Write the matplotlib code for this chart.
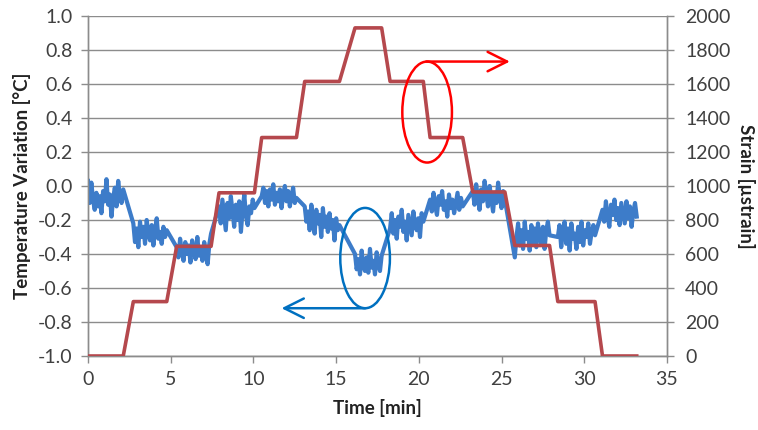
import numpy as np
import matplotlib
matplotlib.use("Agg")
import matplotlib.pyplot as plt
from matplotlib.patches import Ellipse

plt.rcParams['font.family'] = ['Lato', 'DejaVu Sans']

# ---- strain (right axis) ----
strain_t = [0, 2.13, 2.74, 4.76, 5.36, 7.44, 7.92, 10.06, 10.5, 12.6, 13.1, 15.2, 16.14,
            17.75, 18.26, 20.27, 20.68, 22.65, 23.26, 25.2, 25.8, 27.9, 28.4, 30.65, 31.1, 33.17]
strain_v = [0, 0, 320, 320, 645, 645, 960, 960, 1285, 1285, 1615, 1615, 1930,
            1930, 1615, 1615, 1285, 1285, 965, 965, 650, 650, 320, 320, 0, 0]

# ---- temperature variation (left axis), sampled during each hold ----
seg_bounds = [(0.0, 2.13), (2.74, 4.76), (5.36, 7.44), (7.92, 10.06), (10.5, 12.6),
              (13.1, 15.2), (16.14, 17.75), (18.26, 20.27), (20.68, 22.65),
              (23.26, 25.2), (25.8, 27.9), (28.4, 30.65), (31.1, 33.17)]
temp_s1 = [0.03, -0.10, 0.02, -0.08, -0.14, -0.04, -0.12, -0.06, -0.16, -0.03, -0.09, 0.04,
           -0.11, -0.05, -0.18, -0.07, -0.01, -0.12, 0.03, -0.06, -0.10, -0.02]
temp_s2 = [-0.22, -0.33, -0.25, -0.36, -0.21, -0.30, -0.24, -0.34, -0.20, -0.28, -0.32,
           -0.23, -0.35, -0.26, -0.19, -0.31, -0.27, -0.34, -0.24, -0.30, -0.26]
temp_s3 = [-0.36, -0.42, -0.31, -0.39, -0.44, -0.33, -0.40, -0.35, -0.45, -0.32, -0.38,
           -0.43, -0.30, -0.41, -0.36, -0.44, -0.33, -0.39, -0.46, -0.34, -0.28]
temp_s4 = [-0.12, -0.22, -0.08, -0.17, -0.26, -0.10, -0.19, -0.06, -0.15, -0.24, -0.11,
           -0.20, -0.09, -0.27, -0.14, -0.05, -0.18, -0.23, -0.12, -0.16, -0.08, -0.13]
temp_s5 = [-0.06, -0.01, -0.10, -0.03, -0.12, -0.02, -0.08, 0.01, -0.11, -0.04, -0.09,
           -0.02, -0.13, -0.05, 0.00, -0.09, -0.03, -0.12, -0.06, -0.01, -0.10, -0.07]
temp_s6 = [-0.12, -0.21, -0.15, -0.26, -0.11, -0.19, -0.28, -0.14, -0.22, -0.17, -0.30,
           -0.13, -0.24, -0.18, -0.27, -0.16, -0.25, -0.20, -0.32, -0.19, -0.26, -0.23]
temp_s7 = [-0.40, -0.49, -0.43, -0.52, -0.38, -0.47, -0.50, -0.42, -0.51, -0.37, -0.48,
           -0.44, -0.52, -0.39, -0.46, -0.50, -0.41]
temp_s8 = [-0.25, -0.16, -0.28, -0.20, -0.31, -0.18, -0.24, -0.14, -0.27, -0.21, -0.32,
           -0.17, -0.23, -0.29, -0.15, -0.22, -0.26, -0.19, -0.30, -0.16, -0.21]
temp_s9 = [-0.08, -0.15, -0.04, -0.12, -0.17, -0.06, -0.11, -0.03, -0.14, -0.09, -0.18,
           -0.05, -0.13, -0.08, -0.16, -0.10, -0.04, -0.14, -0.07, -0.12]
temp_s10 = [-0.03, -0.11, 0.01, -0.07, -0.14, -0.02, -0.09, 0.03, -0.05, -0.12, 0.00,
            -0.08, -0.15, -0.04, -0.10, 0.02, -0.06, -0.13, -0.03, -0.08]
temp_s11 = [-0.42, -0.30, -0.22, -0.35, -0.26, -0.37, -0.21, -0.31, -0.27, -0.38, -0.23,
            -0.33, -0.25, -0.36, -0.22, -0.30, -0.34, -0.24, -0.37, -0.26, -0.21, -0.29]
temp_s12 = [-0.30, -0.23, -0.36, -0.27, -0.21, -0.34, -0.25, -0.38, -0.22, -0.31, -0.28,
            -0.37, -0.24, -0.33, -0.21, -0.35, -0.26, -0.30, -0.22, -0.34, -0.27, -0.23, -0.29]
temp_s13 = [-0.14, -0.21, -0.09, -0.18, -0.24, -0.11, -0.17, -0.08, -0.20, -0.13, -0.23,
            -0.10, -0.16, -0.22, -0.09, -0.19, -0.12, -0.24, -0.15, -0.10, -0.18]
temp_segments = [temp_s1, temp_s2, temp_s3, temp_s4, temp_s5, temp_s6, temp_s7,
                 temp_s8, temp_s9, temp_s10, temp_s11, temp_s12, temp_s13]

temp_t, temp_v = [], []
for (a, b), vals in zip(seg_bounds, temp_segments):
    temp_t.extend(np.linspace(a, b, len(vals)))
    temp_v.extend(vals)

x_ticks = [0, 5, 10, 15, 20, 25, 30, 35]
left_ticks = [-1.0, -0.8, -0.6, -0.4, -0.2, 0.0, 0.2, 0.4, 0.6, 0.8, 1.0]
right_ticks = [0, 200, 400, 600, 800, 1000, 1200, 1400, 1600, 1800, 2000]

BLUE = '#3D7CC9'
RED = '#B5484D'
GRID = '#8C8C8C'
TXT = '#404040'

fig = plt.figure(figsize=(7.58, 4.30), dpi=100)
ax1 = fig.add_axes([88/758, 1-356/430, (667-88)/758, 340/430])
ax2 = ax1.twinx()

ax1.plot(temp_t, temp_v, color=BLUE, lw=3.0, zorder=3, solid_joinstyle='round')
ax2.plot(strain_t, strain_v, color=RED, lw=2.6, zorder=3)

ax1.set_xlim(0, 35)
ax1.set_ylim(-1.0, 1.0)
ax2.set_ylim(0, 2000)
ax1.set_xticks(x_ticks)
ax1.set_yticks(left_ticks)
ax1.set_yticklabels([f"{v:.1f}" for v in left_ticks])
ax2.set_yticks(right_ticks)
ax1.yaxis.grid(True, color=GRID, lw=1.0)
ax1.set_axisbelow(True)

for ax in (ax1, ax2):
    for side in ('left', 'right', 'bottom'):
        ax.spines[side].set_color(GRID)
        ax.spines[side].set_linewidth(1.0)
    ax.spines['top'].set_visible(False)
    ax.tick_params(colors=GRID, labelcolor=TXT, labelsize=14, length=5, width=1.0)
ax1.tick_params(axis='x', pad=6)
ax1.tick_params(axis='y', pad=6)
ax2.tick_params(axis='y', pad=8)

ax1.set_xlabel('Time [min]', fontsize=13.5, fontweight='bold', color='#222222', labelpad=8)
ax1.set_ylabel('Temperature Variation [°C]', fontsize=13.5, fontweight='bold', color='#222222', labelpad=5)
ax2.set_ylabel('Strain [µstrain]', fontsize=13.5, fontweight='bold', color='#222222',
               rotation=270, labelpad=18)

# annotations
ax1.add_patch(Ellipse((16.75, -0.424), 3.0, 0.59, fill=False, ec='#0070C0', lw=1.8, zorder=5))
ax1.annotate('', xy=(11.7, -0.719), xytext=(16.75, -0.719),
             arrowprops=dict(arrowstyle='->,head_length=0.7,head_width=0.35', color='#0070C0',
                             lw=1.8, shrinkA=0, shrinkB=0, mutation_scale=20), zorder=5)
ax2.add_patch(Ellipse((20.5, 1435), 3.0, 594, fill=False, ec='#FF0000', lw=1.8, zorder=5))
ax2.annotate('', xy=(25.5, 1732), xytext=(20.45, 1732),
             arrowprops=dict(arrowstyle='->,head_length=0.7,head_width=0.35', color='#FF0000',
                             lw=1.8, shrinkA=0, shrinkB=0, mutation_scale=20), zorder=5)

fig.savefig('out.png', dpi=100)
